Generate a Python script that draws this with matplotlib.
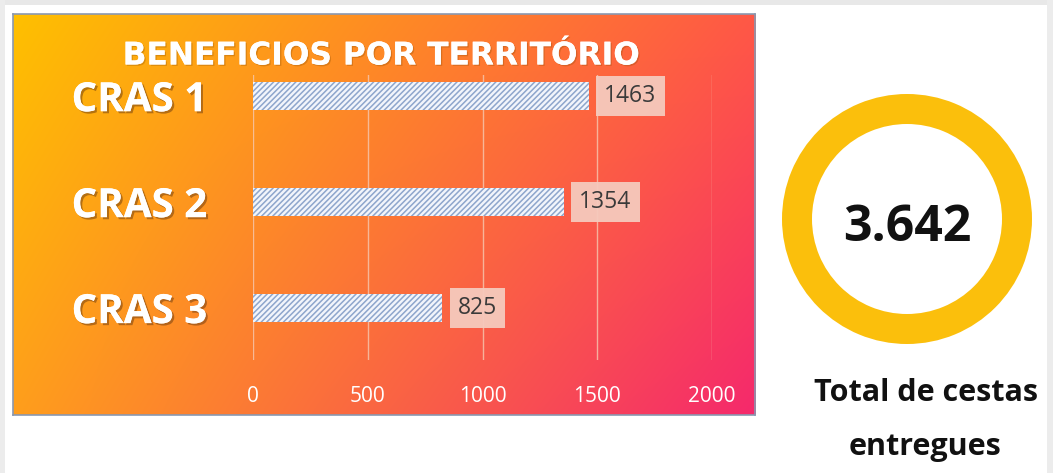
import numpy as np
import matplotlib
matplotlib.use("Agg")
import matplotlib.pyplot as plt
import matplotlib.patheffects as pe
from matplotlib.patches import Rectangle

# ---- data ----
categories = ["CRAS 1", "CRAS 2", "CRAS 3"]
values = [1463, 1354, 825]
x_ticks = [0, 500, 1000, 1500, 2000]
title = "BENEFICIOS POR TERRITÓRIO"
total_label = ["Total de cestas", "entregues"]

W, H = 1053, 473
fig = plt.figure(figsize=(W / 100, H / 100), dpi=100)
fig.patch.set_facecolor("white")

def fr(x0, y0, x1, y1):
    """pixel box (top-left origin) -> figure fraction rect"""
    return [x0 / W, 1 - y1 / H, (x1 - x0) / W, (y1 - y0) / H]

# outer light gray frame strips
deco = fig.add_axes([0, 0, 1, 1])
deco.set_xlim(0, W); deco.set_ylim(H, 0); deco.axis("off")
deco.add_patch(Rectangle((0, 0), W, 5, color="#e8e8e8", lw=0))
deco.add_patch(Rectangle((0, 0), 5, H, color="#ececec", lw=0))
deco.add_patch(Rectangle((W - 6, 0), 6, H, color="#ececec", lw=0))

# gradient panel
bg = fig.add_axes(fr(13, 14, 755, 415))
tl = np.array([255, 192, 0]) / 255
tr = np.array([255, 88, 70]) / 255
bl = np.array([255, 158, 28]) / 255
br = np.array([245, 41, 108]) / 255
nx, ny = 300, 160
u = np.linspace(0, 1, nx)[None, :, None]
v = np.linspace(0, 1, ny)[:, None, None]
grad = (1 - u) * (1 - v) * tl + u * (1 - v) * tr + (1 - u) * v * bl + u * v * br
bg.imshow(grad, aspect="auto", interpolation="bilinear", extent=(0, 1, 1, 0))
bg.set_xticks([]); bg.set_yticks([])
for s in bg.spines.values():
    s.set_color("#8a98b0"); s.set_linewidth(1.2)

# bar chart axes
ax = fig.add_axes(fr(253, 75, 712, 360))
ax.patch.set_alpha(0)
ypos = np.arange(len(categories))
plt.rcParams["hatch.linewidth"] = 1.1
ax.barh(ypos, values, height=0.27, color="#f2f5fb", edgecolor="#8ea6cc",
        linewidth=0, hatch="//////", zorder=3)
ax.set_xlim(0, 2000)
ax.set_ylim(2.49, -0.2)
ax.set_xticks(x_ticks)
ax.set_xticklabels([str(t) for t in x_ticks], fontsize=15, color="white",
                   family="Open Sans")
ax.tick_params(axis="x", length=0, pad=19)
ax.set_yticks(ypos)
ax.set_yticklabels(categories, fontsize=29, color="white", family="Open Sans",
                   fontweight="bold")
ax.tick_params(axis="y", length=0, pad=33)
for lab in ax.get_yticklabels():
    lab.set_path_effects([pe.withSimplePatchShadow(offset=(1.5, -1.5),
                                                   shadow_rgbFace="#6b3a10", alpha=0.5),
                          pe.Normal()])
ax.grid(axis="x", color="#f6c8b0", linewidth=1, alpha=0.8, zorder=0)
for s in ax.spines.values():
    s.set_visible(False)

for yi, val in zip(ypos, values):
    ax.text(val + 68, yi, str(val), ha="left", va="center", fontsize=16.5,
            family="Open Sans", color="#3a3a3a", zorder=4,
            bbox=dict(boxstyle="square,pad=0.36", facecolor="#f5cabd",
                      edgecolor="none", alpha=0.95))

# title
fig.text(381 / W, 1 - 56 / H, title, ha="center", va="center", fontsize=22.5,
         fontweight="bold", family="DejaVu Sans", color="white",
         path_effects=[pe.withSimplePatchShadow(offset=(1, -1),
                                                shadow_rgbFace="#8a4a00", alpha=0.3),
                       pe.Normal()])

# donut with total
total = sum(values)
dax = fig.add_axes(fr(782, 94, 1032, 344))
dax.pie([total], radius=1, colors=["#fbbf0c"], startangle=90,
        wedgeprops=dict(width=0.24, linewidth=0))
dax.set_xlim(-1, 1); dax.set_ylim(-1, 1); dax.set_aspect("equal")
dax.axis("off")
total_str = f"{total:,}".replace(",", ".")
dax.text(0, -0.07, total_str, ha="center", va="center", fontsize=36,
         fontweight="bold", family="Open Sans", color="#111111")

fig.text(926 / W, 1 - 393 / H, total_label[0], ha="center", va="center",
         fontsize=22, fontweight="bold", family="Open Sans", color="#111111")
fig.text(925 / W, 1 - 447 / H, total_label[1], ha="center", va="center",
         fontsize=22, fontweight="bold", family="Open Sans", color="#111111")

fig.savefig("out.png", dpi=100, facecolor=fig.get_facecolor())
